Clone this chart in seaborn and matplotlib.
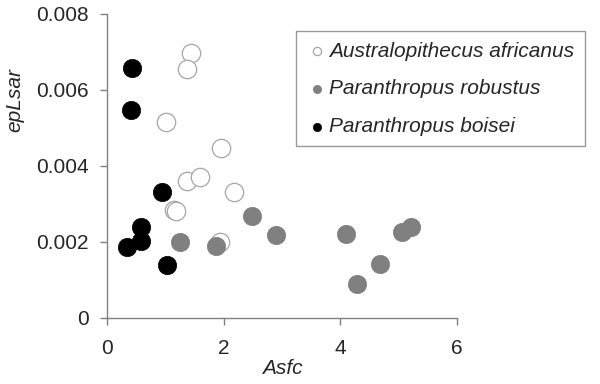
import matplotlib
matplotlib.use("Agg")
import matplotlib.pyplot as plt
import seaborn as sns
import pandas as pd

# Asfc / epLsar por espécie
afr_x = [1.44, 1.37, 1.01, 1.96, 1.37, 1.60, 2.17, 1.15, 1.18, 1.94]
afr_y = [0.00697, 0.00654, 0.00515, 0.00446, 0.00359, 0.00370, 0.00330, 0.00285, 0.00281, 0.00199]
rob_x = [1.26, 1.87, 2.48, 2.89, 4.10, 5.05, 5.21, 4.67, 4.28]
rob_y = [0.00201, 0.00190, 0.00268, 0.00218, 0.00221, 0.00226, 0.00240, 0.00141, 0.00089]
boi_x = [0.44, 0.41, 0.94, 0.58, 0.58, 0.35, 1.03]
boi_y = [0.00657, 0.00547, 0.00332, 0.00239, 0.00203, 0.00187, 0.00138]

especies = ["Australopithecus africanus", "Paranthropus robustus", "Paranthropus boisei"]
x_ticks = [0, 2, 4, 6]
y_ticks = [0, 0.002, 0.004, 0.006, 0.008]

df = pd.concat([
    pd.DataFrame({"Asfc": afr_x, "epLsar": afr_y, "sp": especies[0]}),
    pd.DataFrame({"Asfc": rob_x, "epLsar": rob_y, "sp": especies[1]}),
    pd.DataFrame({"Asfc": boi_x, "epLsar": boi_y, "sp": especies[2]}),
])

sns.set_style("white")
plt.rcParams.update({"font.family": ["Liberation Sans", "DejaVu Sans"]})

fig = plt.figure(figsize=(6, 3.84), dpi=100)
ax = fig.add_axes([0.178, 0.172, 0.584, 0.792])

estilos = {
    especies[0]: dict(color="white", edgecolor="#a6a6a6", linewidth=0.9),
    especies[1]: dict(color="#808080", edgecolor="#808080", linewidth=0.5),
    especies[2]: dict(color="black", edgecolor="black", linewidth=0.5),
}
for sp in especies:
    sub = df[df["sp"] == sp]
    sns.scatterplot(data=sub, x="Asfc", y="epLsar", s=175, label=sp,
                    ax=ax, zorder=3, **estilos[sp])

ax.set_xlim(0, 6)
ax.set_ylim(0, 0.008)
ax.set_xticks(x_ticks)
ax.set_xticklabels([str(t) for t in x_ticks])
ax.set_yticks(y_ticks)
ax.set_yticklabels(["0", "0.002", "0.004", "0.006", "0.008"])
ax.tick_params(axis="both", labelsize=15, direction="out", length=5,
               color="#808080", width=1, left=True, bottom=True)
ax.tick_params(axis="y", pad=8)
ax.tick_params(axis="x", pad=10)
for lado in ["top", "right"]:
    ax.spines[lado].set_visible(False)
for lado in ["left", "bottom"]:
    ax.spines[lado].set_color("#808080")
    ax.spines[lado].set_linewidth(1)
ax.set_xlabel("Asfc", fontsize=15, style="italic", labelpad=1)
ax.set_ylabel("epLsar", fontsize=15, style="italic")
ax.yaxis.set_label_coords(0.04, 0.74, transform=fig.transFigure)

leg = ax.legend(loc="upper left", bbox_to_anchor=(0.493, 0.919),
                bbox_transform=fig.transFigure, prop={"size": 15, "style": "italic"},
                markerscale=0.45, handletextpad=0.1, borderpad=0.5,
                labelspacing=0.9, fancybox=False, frameon=True,
                handlelength=1.0, borderaxespad=0)
leg.get_frame().set_edgecolor("#808080")
leg.get_frame().set_linewidth(1)

fig.savefig("out.png", dpi=100)
